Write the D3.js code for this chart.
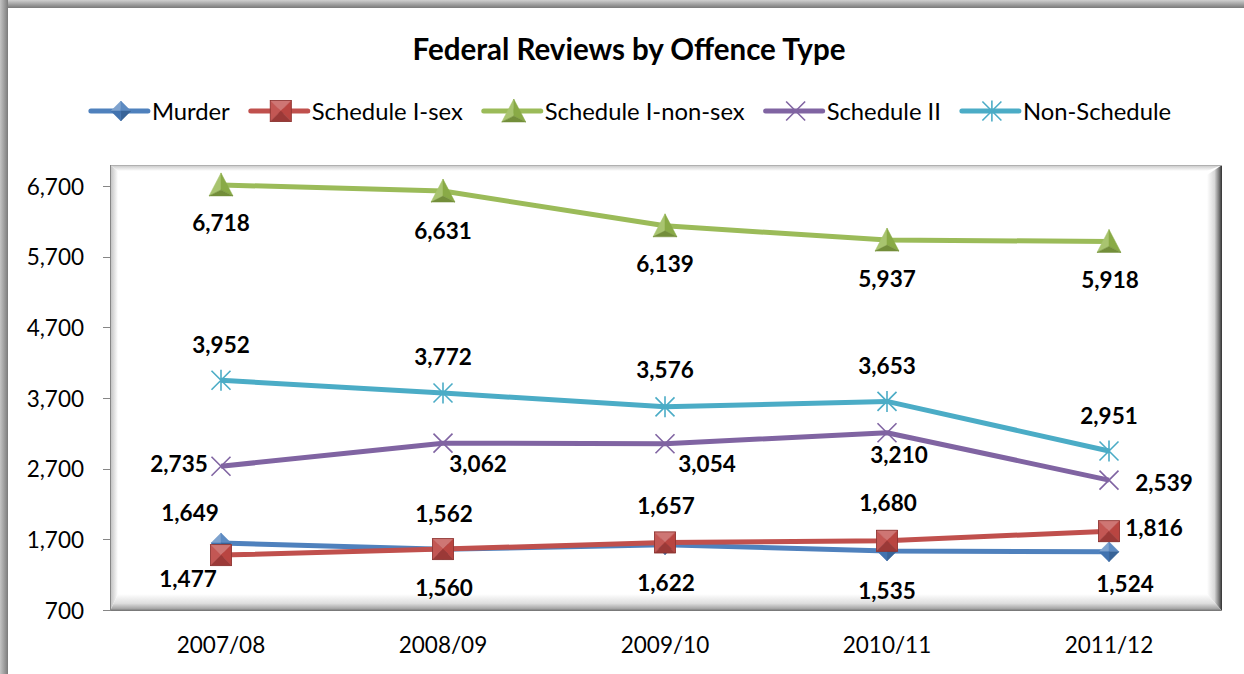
<!DOCTYPE html>
<html>
<head>
<meta charset="utf-8">
<script src="https://cdn.jsdelivr.net/npm/d3@7"></script>
<style>
  body { margin: 0; background: #fff; }
  text { font-family: Lato, "Open Sans", sans-serif; fill: #000; }
</style>
</head>
<body>
<div id="chart"></div>
<script>
///data
var categories = ["2007/08", "2008/09", "2009/10", "2010/11", "2011/12"];
var murder = [1649, 1560, 1622, 1535, 1524];
var scheduleISex = [1477, 1562, 1657, 1680, 1816];
var scheduleINonSex = [6718, 6631, 6139, 5937, 5918];
var scheduleII = [2735, 3062, 3054, 3210, 2539];
var nonSchedule = [3952, 3772, 3576, 3653, 2951];
var yTicks = [700, 1700, 2700, 3700, 4700, 5700, 6700];

var series = [
  {name: "Murder", values: murder, color: "#4F81BD", marker: "diamond"},
  {name: "Schedule I-sex", values: scheduleISex, color: "#C0504D", marker: "square"},
  {name: "Schedule I-non-sex", values: scheduleINonSex, color: "#9BBB59", marker: "triangle"},
  {name: "Schedule II", values: scheduleII, color: "#8064A2", marker: "x"},
  {name: "Non-Schedule", values: nonSchedule, color: "#4BACC6", marker: "star"}
];

// where each data label sits relative to its point (layout, not data)
var labelOffsets = {
  "Murder": [[-31, -30], [1, 38], [1, 38], [0, 39], [16, 32]],
  "Schedule I-sex": [[-33, 23], [1, -36], [1, -37], [1, -38], [45, -4]],
  "Schedule I-non-sex": [[0, 38], [0, 39], [0, 38], [0, 38], [1, 38]],
  "Schedule II": [[-42, -3], [35, 20], [42, 20], [12, 22], [55, 2]],
  "Non-Schedule": [[0, -36], [0, -37], [0, -37], [0, -36], [0, -36]]
};

var width = 1244, height = 674;
var plot = {left: 110, top: 165, right: 1222, bottom: 611};

var svg = d3.select("#chart").append("svg")
    .attr("width", width)
    .attr("height", height);

var defs = svg.append("defs");
function grad(id, x2, y2, stops) {
  var g = defs.append("linearGradient").attr("id", id)
      .attr("x1", 0).attr("y1", 0).attr("x2", x2).attr("y2", y2);
  stops.forEach(s => g.append("stop").attr("offset", s[0]).attr("stop-color", s[1]));
}
grad("frameTop", 0, 1, [[0, "#d0d0d0"], [0.8, "#8a8a8a"], [1, "#7a7a7a"]]);
grad("frameLeft", 1, 0, [[0, "#c4c4c4"], [0.8, "#8a8a8a"], [1, "#7a7a7a"]]);
grad("bevRight", 1, 0, [[0, "#ffffff"], [0.5, "#d8d8d8"], [0.8, "#7a7a7a"], [1, "#303030"]]);
grad("bevBottom", 0, 1, [[0, "#ffffff"], [0.55, "#dedede"], [0.85, "#a8a8a8"], [1, "#6e6e6e"]]);
grad("bevLeft", 1, 0, [[0, "#bcbcbc"], [1, "#ffffff"]]);
grad("bevTop", 0, 1, [[0, "#c4c4c4"], [1, "#ffffff"]]);

///outer frame
svg.append("rect").attr("x", 0).attr("y", 0).attr("width", width).attr("height", 8)
    .attr("fill", "url(#frameTop)");
svg.append("rect").attr("x", 0).attr("y", 0).attr("width", 8).attr("height", height)
    .attr("fill", "url(#frameLeft)");

///title
svg.append("text")
    .attr("x", 629).attr("y", 48)
    .attr("text-anchor", "middle").attr("dominant-baseline", "central")
    .style("font-size", "29.5px").style("font-weight", "bold")
    .text("Federal Reviews by Offence Type");

///scales
var x = d3.scalePoint().domain(categories).range([110, 1220]).padding(0.5);
var y = d3.scaleLinear().domain([700, 7000]).range([610, 165]);

///plot area with bevel
var pa = svg.append("g");
pa.append("rect").attr("x", plot.left).attr("y", plot.top)
    .attr("width", plot.right - plot.left).attr("height", plot.bottom - plot.top)
    .attr("fill", "#fff");
pa.append("path").attr("fill", "url(#bevLeft)")
    .attr("d", `M${plot.left},${plot.top}L${plot.left + 8},${plot.top + 6}L${plot.left + 8},${plot.bottom - 17}L${plot.left},${plot.bottom}Z`);
pa.append("path").attr("fill", "url(#bevTop)")
    .attr("d", `M${plot.left},${plot.top}L${plot.right},${plot.top}L${plot.right - 15},${plot.top + 6}L${plot.left + 8},${plot.top + 6}Z`);
pa.append("path").attr("fill", "url(#bevRight)")
    .attr("d", `M${plot.right},${plot.top}L${plot.right},${plot.bottom}L${plot.right - 15},${plot.bottom - 17}L${plot.right - 15},${plot.top + 10}Z`);
pa.append("path").attr("fill", "url(#bevBottom)")
    .attr("d", `M${plot.left},${plot.bottom}L${plot.right},${plot.bottom}L${plot.right - 15},${plot.bottom - 17}L${plot.left + 8},${plot.bottom - 17}Z`);
pa.append("path").attr("fill", "none").attr("stroke", "#b0b0b0").attr("stroke-width", 1)
    .attr("d", `M${plot.left + 0.5},${plot.bottom}V${plot.top + 0.5}H${plot.right}`);

///axes
var yAxis = svg.append("g");
yAxis.append("line").attr("x1", 110.5).attr("x2", 110.5).attr("y1", plot.top).attr("y2", 610)
    .attr("stroke", "#868686");
yAxis.selectAll("line.tick").data(yTicks).enter().append("line")
    .attr("class", "tick")
    .attr("x1", 103).attr("x2", 111)
    .attr("y1", d => Math.round(y(d)) + 0.5).attr("y2", d => Math.round(y(d)) + 0.5)
    .attr("stroke", "#868686");
yAxis.selectAll("text").data(yTicks).enter().append("text")
    .attr("x", 84).attr("y", d => y(d))
    .attr("text-anchor", "end").attr("dominant-baseline", "central")
    .style("font-size", "22.5px")
    .text(d3.format(","));

svg.append("g").selectAll("text").data(categories).enter().append("text")
    .attr("x", d => x(d)).attr("y", 644)
    .attr("text-anchor", "middle").attr("dominant-baseline", "central")
    .style("font-size", "22.5px")
    .text(d => d);

///markers
function shade(c, k) {
  var h = d3.hsl(c);
  return k > 0 ? h.brighter(k).formatHex() : h.darker(-k).formatHex();
}
function drawMarker(g, type, color, cx, cy) {
  var m = g.append("g").attr("transform", `translate(${cx},${cy})`);
  var face = (pts, k) => m.append("path")
      .attr("d", "M" + pts.map(p => p.join(",")).join("L") + "Z")
      .attr("fill", shade(color, k)).attr("stroke", shade(color, k)).attr("stroke-width", 0.5);
  if (type === "diamond") {
    var r = 10;
    face([[0, 0], [0, -r], [-r, 0]], 0.6);
    face([[0, 0], [0, -r], [r, 0]], 0.2);
    face([[0, 0], [r, 0], [0, r]], -0.7);
    face([[0, 0], [-r, 0], [0, r]], -0.3);
  } else if (type === "square") {
    var s = 10.5;
    face([[0, 0], [-s, -s], [s, -s]], 0.5);
    face([[0, 0], [-s, -s], [-s, s]], 0.1);
    face([[0, 0], [s, -s], [s, s]], -0.2);
    face([[0, 0], [-s, s], [s, s]], -0.7);
    m.append("rect").attr("x", -s).attr("y", -s).attr("width", 2 * s).attr("height", 2 * s)
        .attr("fill", "none").attr("stroke", shade(color, -1)).attr("stroke-width", 0.8);
  } else if (type === "triangle") {
    face([[0, -12], [-12, 11], [0, 5]], 0.3);
    face([[0, -12], [12, 11], [0, 5]], -0.4);
    face([[-12, 11], [12, 11], [0, 5]], -0.9);
  } else {
    var q = 9.5;
    m.append("path")
        .attr("d", `M${-q},${-q}L${q},${q}M${-q},${q}L${q},${-q}` + (type === "star" ? `M0,${-q - 1}L0,${q + 1}` : ""))
        .attr("stroke", color).attr("stroke-width", 1.6).attr("fill", "none");
  }
}

///lines
var line = d3.line().x((d, i) => x(categories[i])).y(d => y(d));

series.forEach(s => {
  var g = svg.append("g");
  g.append("path").datum(s.values)
      .attr("d", line)
      .attr("fill", "none")
      .attr("stroke", s.color)
      .attr("stroke-width", 5)
      .attr("stroke-linejoin", "round");
  s.values.forEach((v, i) => drawMarker(g, s.marker, s.color, x(categories[i]), y(v)));
});

///data labels
series.forEach(s => {
  svg.append("g").selectAll("text").data(s.values).enter().append("text")
      .attr("x", (d, i) => x(categories[i]) + labelOffsets[s.name][i][0])
      .attr("y", (d, i) => y(d) + labelOffsets[s.name][i][1])
      .attr("text-anchor", "middle").attr("dominant-baseline", "central")
      .style("font-size", "22.5px").style("font-weight", "bold")
      .text(d3.format(","));
});

///legend
var legend = svg.append("g");
var items = legend.selectAll("g").data(series).enter().append("g");
items.append("text")
    .attr("x", 61).attr("y", 111)
    .attr("dominant-baseline", "central")
    .style("font-size", "23.8px")
    .text(d => d.name);
var widths = [];
items.select("text").each(function() { widths.push(this.getComputedTextLength()); });
var total = d3.sum(widths) + 61 * series.length + 21 * (series.length - 1);
var cursor = 631 - total / 2;
items.each(function(d, i) {
  var g = d3.select(this).attr("transform", `translate(${cursor},0)`);
  g.append("line").attr("x1", 0).attr("x2", 57).attr("y1", 111).attr("y2", 111)
      .attr("stroke", d.color).attr("stroke-width", 5).attr("stroke-linecap", "round");
  drawMarker(g, d.marker, d.color, 30, 111);
  cursor += 61 + widths[i] + 21;
});
</script>
</body>
</html>
